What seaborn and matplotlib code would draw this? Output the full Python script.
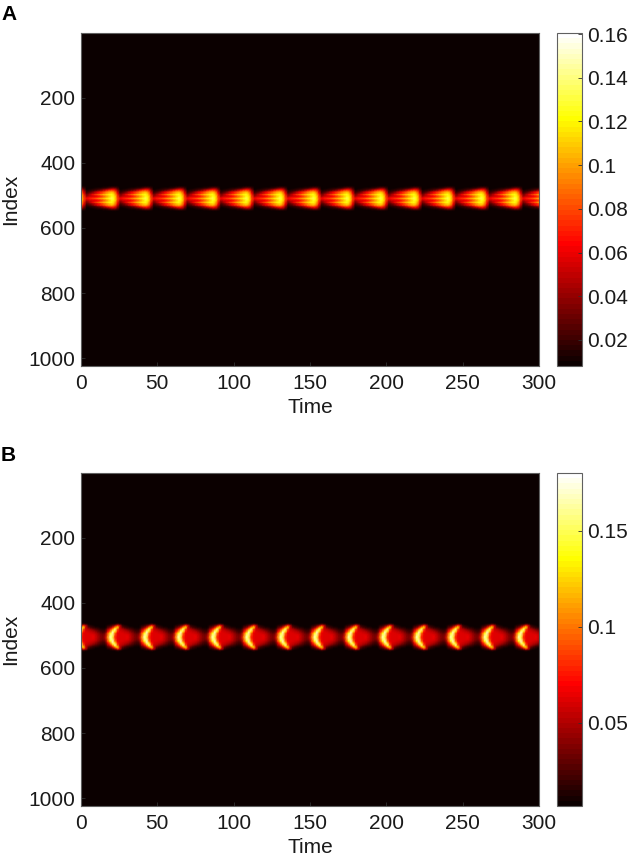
import numpy as np
import pandas as pd
import seaborn as sns
import matplotlib
matplotlib.use('Agg')
import matplotlib.pyplot as plt

plt.rcParams['font.family'] = ['Liberation Sans', 'DejaVu Sans']

# one firing cycle, each line = one column in time,
# entries go from the centre of the band outwards (every 4 index steps)
cycle_a = [
    [.062, .052, .040, .032, .024, .018, .013, .010, .009, .008, .008, .008],
    [.068, .060, .048, .045, .030, .024, .016, .012, .009, .008, .008, .008],
    [.075, .062, .052, .062, .040, .034, .020, .014, .010, .008, .008, .008],
    [.084, .064, .058, .076, .048, .050, .024, .016, .012, .009, .008, .008],
    [.092, .070, .064, .086, .060, .062, .032, .020, .013, .009, .008, .008],
    [.102, .076, .074, .097, .070, .073, .040, .024, .015, .010, .008, .008],
    [.110, .086, .086, .107, .080, .084, .052, .032, .017, .011, .008, .008],
    [.118, .098, .098, .115, .092, .094, .068, .040, .020, .012, .008, .008],
    [.126, .112, .110, .122, .104, .102, .080, .050, .026, .013, .009, .008],
    [.134, .128, .122, .127, .114, .106, .086, .060, .034, .016, .009, .008],
    [.118, .118, .114, .110, .102, .092, .076, .056, .034, .017, .010, .008],
    [.080, .078, .076, .072, .064, .054, .044, .032, .022, .013, .009, .008],
]

cycle_b = [
    [.105, .100, .095, .088, .074, .060, .045, .030, .021, .013, .009, .008],
    [.165, .160, .152, .135, .112, .092, .072, .048, .030, .017, .011, .008],
    [.145, .152, .160, .165, .165, .145, .112, .082, .052, .026, .013, .009],
    [.080, .085, .092, .100, .125, .150, .160, .130, .088, .044, .017, .009],
    [.066, .066, .066, .066, .072, .080, .092, .118, .122, .078, .026, .010],
    [.062, .062, .062, .062, .062, .060, .058, .056, .058, .054, .021, .009],
    [.062, .062, .062, .062, .060, .058, .052, .040, .028, .020, .012, .008],
    [.063, .063, .062, .060, .058, .052, .042, .030, .019, .013, .009, .008],
    [.064, .064, .062, .058, .054, .046, .034, .023, .015, .010, .008, .008],
    [.060, .058, .056, .052, .046, .038, .027, .018, .012, .009, .008, .008],
    [.050, .048, .046, .042, .036, .029, .021, .015, .010, .008, .008, .008],
    [.040, .039, .037, .033, .028, .022, .016, .012, .009, .008, .008, .008],
    [.036, .035, .032, .028, .023, .018, .013, .010, .008, .008, .008, .008],
    [.052, .048, .042, .036, .028, .022, .016, .012, .009, .008, .008, .008],
]

period_a = 22.0
period_b = 22.3
start_a = 10
start_b = 3
centre_a = 509
centre_b = 506
vmin_a, vmax_a = 0.0081, 0.1605
vmin_b, vmax_b = 0.0068, 0.180

time_ticks = [0, 50, 100, 150, 200, 250, 300]
index_ticks = [200, 400, 600, 800, 1000]
cbar_ticks_a = [0.02, 0.04, 0.06, 0.08, 0.1, 0.12, 0.14, 0.16]
cbar_labels_a = ['0.02', '0.04', '0.06', '0.08', '0.1', '0.12', '0.14', '0.16']
cbar_ticks_b = [0.05, 0.1, 0.15]
cbar_labels_b = ['0.05', '0.1', '0.15']

index_max = 1024
index_step = 4
time_max = 300
frame_color = '#606060'


def build_frame(cycle, period, start, centre, floor):
    half = np.array(cycle).T
    band = np.vstack([half[:0:-1], half])
    n_steps = len(cycle)
    n_cols = int(np.ceil(time_max / (period / n_steps))) + 1
    n_rows = index_max // index_step
    grid = np.full((n_rows, n_cols), floor)
    top = centre // index_step - len(half) + 1
    phase = (np.arange(n_cols) + start) % n_steps
    grid[top:top + len(band), :] = band[:, phase]
    return pd.DataFrame(grid)


def draw_panel(ax, cax, frame, period, n_steps, vmin, vmax, cticks, clabels):
    sns.heatmap(frame, ax=ax, cbar_ax=cax, cmap=plt.get_cmap('hot', 64), vmin=vmin, vmax=vmax,
                xticklabels=False, yticklabels=False, shading='gouraud', rasterized=True)
    col_width = period / n_steps
    row_width = (index_max - 1) / (frame.shape[0] - 1)
    ax.set_xlim(0, time_max / col_width)
    ax.set_ylim(frame.shape[0] - 1, 0)
    ax.set_xticks([t / col_width for t in time_ticks])
    ax.set_xticklabels([str(t) for t in time_ticks])
    ax.set_yticks([(i - 1) / row_width for i in index_ticks])
    ax.set_yticklabels([str(i) for i in index_ticks], rotation=0)
    ax.tick_params(axis='both', labelsize=15, length=3, width=0.6, direction='in', color='#303030',
                   labelcolor='#1a1a1a', pad=4)
    ax.tick_params(axis='x', pad=6)
    ax.set_xlabel('Time', fontsize=15, labelpad=3, color='#1a1a1a')
    ax.set_ylabel('Index', fontsize=15, labelpad=6, color='#1a1a1a')
    for side in ax.spines:
        ax.spines[side].set_visible(True)
        ax.spines[side].set_color(frame_color)
        ax.spines[side].set_linewidth(0.8)

    cb = ax.collections[0].colorbar
    cb.set_ticks(cticks)
    cb.set_ticklabels(clabels)
    cb.ax.tick_params(labelsize=15, length=3, width=0.6, direction='in', color='#303030',
                      labelcolor='#1a1a1a', pad=4)
    cb.outline.set_visible(True)
    cb.outline.set_edgecolor(frame_color)
    cb.outline.set_linewidth(0.8)


frame_a = build_frame(cycle_a, period_a, start_a, centre_a, vmin_a)
frame_b = build_frame(cycle_b, period_b, start_b, centre_b, vmin_b)

w, h = 630, 855
fig = plt.figure(figsize=(w / 100, h / 100), dpi=100, facecolor='white')


def px_axes(x0, y0, x1, y1):
    return fig.add_axes([x0 / w, 1 - y1 / h, (x1 - x0) / w, (y1 - y0) / h])


ax_a = px_axes(81, 33, 539, 366)
cax_a = px_axes(557, 33, 582, 366)
ax_b = px_axes(81, 473, 539, 806)
cax_b = px_axes(557, 473, 582, 806)

draw_panel(ax_a, cax_a, frame_a, period_a, len(cycle_a), vmin_a, vmax_a, cbar_ticks_a, cbar_labels_a)
draw_panel(ax_b, cax_b, frame_b, period_b, len(cycle_b), vmin_b, vmax_b, cbar_ticks_b, cbar_labels_b)

fig.text(1 / w, 1 - 20 / h, 'A', fontsize=15, fontweight='bold', color='black')
fig.text(1 / w, 1 - 461 / h, 'B', fontsize=15, fontweight='bold', color='black')

fig.savefig('out.png', dpi=100)
